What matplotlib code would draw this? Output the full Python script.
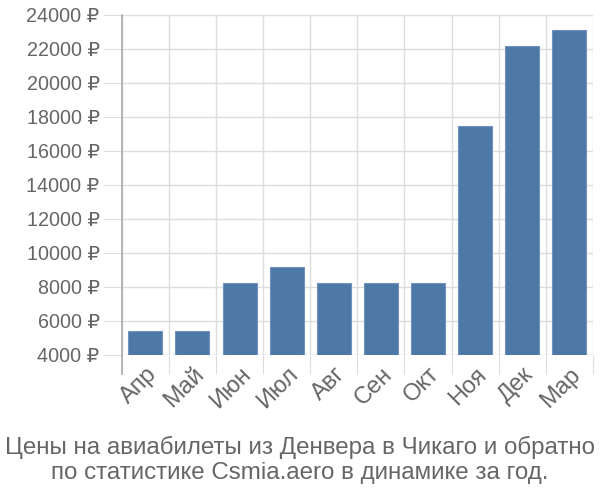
import matplotlib
matplotlib.use("Agg")
import matplotlib.pyplot as plt

months = ["Апр", "Май", "Июн", "Июл", "Авг", "Сен", "Окт", "Ноя", "Дек", "Мар"]
prices = [5400, 5400, 8220, 9180, 8220, 8220, 8220, 17470, 22200, 23130]
yticks = list(range(4000, 24001, 2000))
title = "Цены на авиабилеты из Денвера в Чикаго и обратно\nпо статистике Csmia.aero в динамике за год."

plt.rcParams['font.family'] = ['Liberation Sans', 'DejaVu Sans']

fig = plt.figure(figsize=(6, 5), dpi=100)
ax = fig.add_axes([0.203, 0.29, 0.785, 0.68])

x = list(range(len(months)))
ax.bar(x, [p - 4000 for p in prices], bottom=4000, width=0.72,
       color="#4e79a7", edgecolor="#6f93bd", linewidth=0.8, zorder=3)

ax.set_xlim(-0.5, len(months) - 0.5)
ax.set_ylim(4000, 24000)
ax.set_yticks(yticks)
ax.set_yticklabels([f"{v} ₽" for v in yticks])
ax.set_xticks([i - 0.5 for i in range(len(months) + 1)], minor=False)
ax.set_xticklabels([])
ax.set_xticks(x, minor=True)
ax.set_xticklabels(months, minor=True, rotation=45, ha="right", va="top",
                   rotation_mode="anchor")

ax.grid(True, which="major", color="#dddddd", linewidth=1, zorder=0)
ax.tick_params(axis="y", which="major", length=14, color="#dddddd",
               labelsize=14.2, labelcolor="#666666", pad=2)
ax.tick_params(axis="x", which="major", length=14, color="#dddddd")
ax.tick_params(axis="x", which="minor", length=0, labelsize=17,
               labelcolor="#666666", pad=6)
for s in ["top", "right", "bottom"]:
    ax.spines[s].set_visible(False)
ax.spines["left"].set_color("#aaaaaa")
ax.spines["left"].set_linewidth(1.2)
ax.spines["left"].set_bounds(2900, 24000)
ax.spines["left"].set_zorder(4)

fig.text(0.5, 0.08, title, ha="center", va="center", fontsize=17.4,
         color="#666666", linespacing=1.15)

fig.savefig("out.png", dpi=100)
